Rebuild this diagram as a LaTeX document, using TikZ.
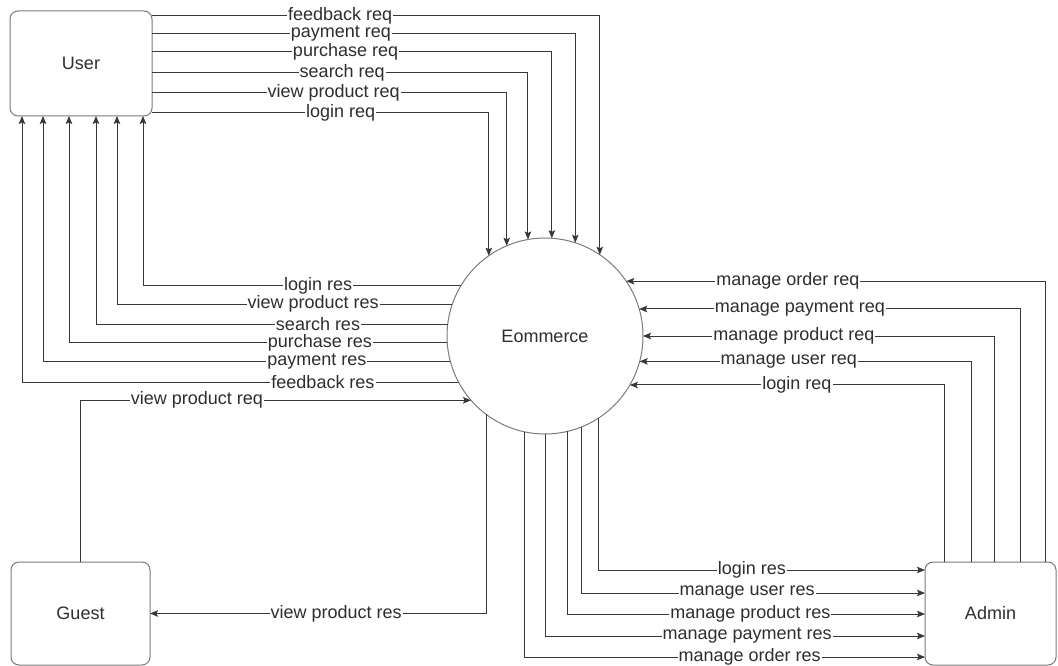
\documentclass[tikz,border=0pt]{standalone}
\usepackage{fontspec}
\setmainfont{Liberation Sans}
\usetikzlibrary{arrows.meta,calc}
\definecolor{linec}{HTML}{383838}
\definecolor{boxc}{HTML}{7A7A7A}
\definecolor{txtc}{HTML}{2E2E2E}
\begin{document}
\begin{tikzpicture}[x=1pt,y=-1pt,
  font=\fontsize{18}{20}\selectfont, text=txtc,
  ent/.style={draw=boxc, line width=1pt, rounded corners=8pt, minimum width=142pt, minimum height=105pt, inner sep=0pt, outer sep=0pt, fill=white},
  proc/.style={draw=boxc, line width=1pt, circle, minimum size=196pt, inner sep=0pt, outer sep=0pt},
  flow/.style={draw=linec, line width=1pt, -{Stealth[length=8pt,width=6.5pt,inset=1.5pt]}},
  lbl/.style={fill=white, inner xsep=1pt, inner ysep=0pt, text=txtc}]
\useasboundingbox (0,0) rectangle (1058,666);

\node[ent] (User) at (81,63.5) {User};
\node[ent, minimum width=139pt, minimum height=103pt] (Guest) at (80.5,613.5) {Guest};
\node[ent, minimum width=131pt, minimum height=103pt] (Admin) at (990.5,613.5) {Admin};
\node[proc] (E) at (545,336) {Eommerce};

% User requests
\draw[flow] ([yshift=-5pt]User.north east) -| node[lbl,pos=0.210]{feedback req} (E.56.6);
\draw[flow] ([yshift=-23pt]User.north east) -| node[lbl,pos=0.223]{payment req} (E.72.8);
\draw[flow] ([yshift=-41pt]User.north east) -| node[lbl,pos=0.242]{purchase req} (E.86.5);
\draw[flow] ([yshift=-62pt]User.north east) -| node[lbl,pos=0.253]{search req} (E.100);
\draw[flow] ([yshift=-82pt]User.north east) -| node[lbl,pos=0.256]{view product req} (E.113.4);
\draw[flow] ([yshift=-102pt]User.north east) -| node[lbl,pos=0.280]{login req} (E.125.6);

% User responses
\draw[flow] (E.149.3) -| node[lbl,pos=0.2246]{login res} ([xshift=133pt]User.south west);
\draw[flow] (E.161.6) -| node[lbl,pos=0.2075]{view product res} ([xshift=107pt]User.south west);
\draw[flow] (E.173.0) -| node[lbl,pos=0.1844]{search res} ([xshift=86pt]User.south west);
\draw[flow] (E.184.1) -| node[lbl,pos=0.1683]{purchase res} ([xshift=59pt]User.south west);
\draw[flow] (E.195.4) -| node[lbl,pos=0.1638]{payment res} ([xshift=33pt]User.south west);
\draw[flow] (E.208.0) -| node[lbl,pos=0.1552]{feedback res} ([xshift=12pt]User.south west);

% Guest
\draw[flow] (Guest.north) |- node[lbl,pos=0.649]{view product req} (E.221.5);
\draw[flow] (E.233) |- node[lbl,pos=0.723]{view product res} (Guest.east);

% Admin requests
\draw[flow] ([xshift=120pt]Admin.north west) |- node[lbl,pos=0.807]{manage order req} (E.34.1);
\draw[flow] ([xshift=95pt]Admin.north west) |- node[lbl,pos=0.789]{manage payment req} (E.16.6);
\draw[flow] ([xshift=69pt]Admin.north west) |- node[lbl,pos=0.785]{manage product req} (E.0);
\draw[flow] ([xshift=46pt]Admin.north west) |- node[lbl,pos=0.775]{manage user req} (E.345.2);
\draw[flow] ([xshift=19pt]Admin.north west) |- node[lbl,pos=0.734]{login req} (E.330.7);

% Admin responses
\draw[flow] (E.303.4) |- node[lbl,pos=0.735]{login res} ([yshift=-8pt]Admin.north west);
\draw[flow] (E.292.8) |- node[lbl,pos=0.741]{manage user res} ([yshift=-31pt]Admin.north west);
\draw[flow] (E.283.0) |- node[lbl,pos=0.756]{manage product res} ([yshift=-52pt]Admin.north west);
\draw[flow] (E.270) |- node[lbl,pos=0.766]{manage payment res} ([yshift=-74pt]Admin.north west);
\draw[flow] (E.258.8) |- node[lbl,pos=0.781]{manage order res} ([yshift=-95pt]Admin.north west);
\end{tikzpicture}
\end{document}
